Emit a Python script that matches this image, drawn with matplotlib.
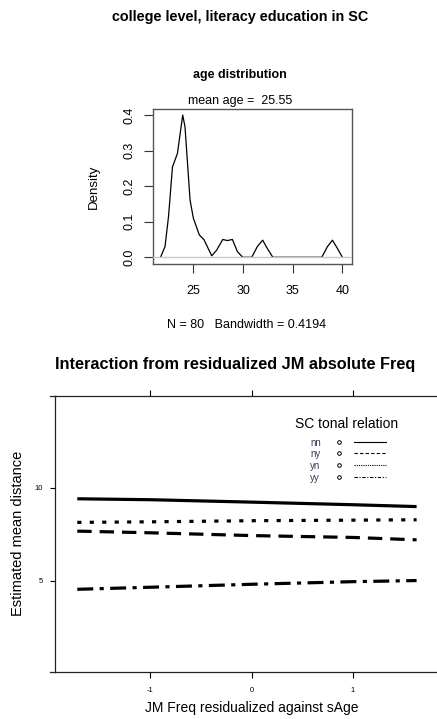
import matplotlib
matplotlib.use("Agg")
import matplotlib.pyplot as plt
from matplotlib.lines import Line2D

plt.rcParams['font.family'] = ['Liberation Sans', 'DejaVu Sans']
plt.rcParams['axes.unicode_minus'] = False

# ---- data: density of age ----
age_grid = [21.7, 22.15, 22.5, 22.9, 23.4, 23.93, 24.16, 24.67, 25.0, 25.6, 26.08,
            26.85, 27.35, 27.96, 28.43, 28.93, 29.43, 29.97, 30.88, 31.44, 31.98,
            32.44, 33.0, 37.93, 38.5, 39.0, 39.5, 40.0]
age_density = [0.0, 0.03, 0.114, 0.254, 0.292, 0.4, 0.367, 0.161, 0.11, 0.063, 0.049,
               0.004, 0.02, 0.05, 0.047, 0.05, 0.016, 0.0, 0.0, 0.03, 0.048,
               0.025, 0.0, 0.0, 0.03, 0.048, 0.025, 0.0]
age_xticks = [25, 30, 35, 40]
age_yticks = [0.0, 0.1, 0.2, 0.3, 0.4]
age_yticklabels = ["0.0", "0.1", "0.2", "0.3", "0.4"]

# ---- data: interaction ----
freq_x = [-1.72, -1.0, 0.0, 1.0, 1.63]
groups = ["nn", "ny", "yn", "yy"]
dist_nn = [9.42, 9.37, 9.24, 9.10, 9.00]
dist_ny = [7.68, 7.59, 7.44, 7.34, 7.21]
dist_yn = [8.15, 8.18, 8.24, 8.27, 8.29]
dist_yy = [4.55, 4.66, 4.82, 4.96, 5.02]
freq_xticks = [-1, 0, 1]
dist_yticks = [5, 10]

W, H = 437, 719
fig = plt.figure(figsize=(W / 100, H / 100), dpi=100)

def fx(px):
    return px / W

def fy(py):
    return 1 - py / H

# ---------- top title ----------
fig.text(fx(240), fy(17), "college level, literacy education in SC", ha="center", va="center",
         fontsize=10.4, fontweight="bold")

# ---------- density panel ----------
L, R, T, B = 153, 352, 109, 264
ax1 = fig.add_axes([fx(L), fy(B), (R - L) / W, (B - T) / H])
ax1.plot(age_grid, age_density, color="black", lw=0.9, zorder=2)
ax1.axhline(0, color="#c8c8c8", lw=1.0, zorder=3)
ax1.set_xlim(20.94, 40.97)
ax1.set_ylim(-0.019, 0.417)
ax1.set_xticks(age_xticks)
ax1.set_yticks(age_yticks)
ax1.set_yticklabels(age_yticklabels, rotation=90, va="center")
ax1.tick_params(direction="out", length=6.3, width=0.8, labelsize=9, color="#333333")
ax1.tick_params(axis="x", pad=9)
ax1.tick_params(axis="y", pad=6)
for s in ax1.spines.values():
    s.set_color("#555555")
    s.set_linewidth(1.0)
ax1.set_ylabel("Density", fontsize=9.5)
ax1.yaxis.set_label_coords(-(L - 100) / (R - L), 0.5, transform=ax1.transAxes)
fig.text(fx(240), fy(75), "age distribution", ha="center", va="center", fontsize=9, fontweight="bold")
fig.text(fx(240), fy(101), "mean age =  25.55", ha="center", va="center", fontsize=9)
fig.text(fx(247), fy(325), "N = 80   Bandwidth = 0.4194", ha="center", va="center", fontsize=9)

# ---------- interaction panel ----------
L2, R2, T2, B2 = 55, 448, 396, 672
ax2 = fig.add_axes([fx(L2), fy(B2), (R2 - L2) / W, (B2 - T2) / H])
ax2.set_xlim(-1.94, 1.94)
ax2.set_ylim(0.1, 14.95)
lw = 2.3
ax2.plot(freq_x, dist_nn, color="black", lw=lw, ls="-", solid_capstyle="butt")
ax2.plot(freq_x, dist_ny, color="black", lw=lw, ls=(0, (4.5, 2.5)), dash_capstyle="butt")
ax2.plot(freq_x, dist_yn, color="black", lw=lw, ls=(0, (1.3, 2.6)), dash_capstyle="butt")
ax2.plot(freq_x, dist_yy, color="black", lw=lw, ls=(0, (5, 2, 1.3, 2)), dash_capstyle="butt")
ax2.set_xticks(freq_xticks)
ax2.set_yticks(dist_yticks)
ax2.tick_params(axis="both", direction="out", length=4.5, width=0.8, labelsize=5.5, pad=6)
ax2.tick_params(axis="y", length=3.8, pad=5)
ax2.tick_params(axis="x", top=True, labeltop=False)
ax2.spines["right"].set_visible(False)
for s in ["left", "top", "bottom"]:
    ax2.spines[s].set_linewidth(0.9)
    ax2.spines[s].set_color("#222222")
ax2.set_xlabel("JM Freq residualized against sAge", fontsize=10)
ax2.xaxis.set_label_coords((252 - L2) / (R2 - L2), -(701 - B2) / (B2 - T2), transform=ax2.transAxes)
ax2.set_ylabel("Estimated mean distance", fontsize=10.5)
ax2.yaxis.set_label_coords(-(L2 - 25) / (R2 - L2), (B2 - 533) / (B2 - T2), transform=ax2.transAxes)

# extension of top and bottom lines left of the frame
for yy in (T2, B2):
    fig.add_artist(Line2D([fx(50), fx(55)], [fy(yy), fy(yy)], color="#222222", lw=0.9))

fig.text(fx(235), fy(365), "Interaction from residualized JM absolute Freq", ha="center", va="center",
         fontsize=11.7, fontweight="bold")

# legend
fig.text(fx(347), fy(424), "SC tonal relation", ha="center", va="center", fontsize=10)
leg_styles = ["-", (0, (3, 2)), (0, (1, 1)), (0, (3, 1.5, 1, 1.5))]
leg_y = [443, 454, 466, 478]
for g, st, yy in zip(groups, leg_styles, leg_y):
    fig.text(fx(310), fy(yy), g, ha="left", va="center", fontsize=7, color="#3a3a5a")
    fig.add_artist(Line2D([fx(339)], [fy(yy - 1)], marker="o", markersize=2.6, markerfacecolor="none",
                          markeredgecolor="black", markeredgewidth=0.7, ls="none"))
    fig.add_artist(Line2D([fx(354), fx(386)], [fy(yy - 1), fy(yy - 1)], color="black", lw=0.8, ls=st))

fig.savefig("out.png", dpi=100)
